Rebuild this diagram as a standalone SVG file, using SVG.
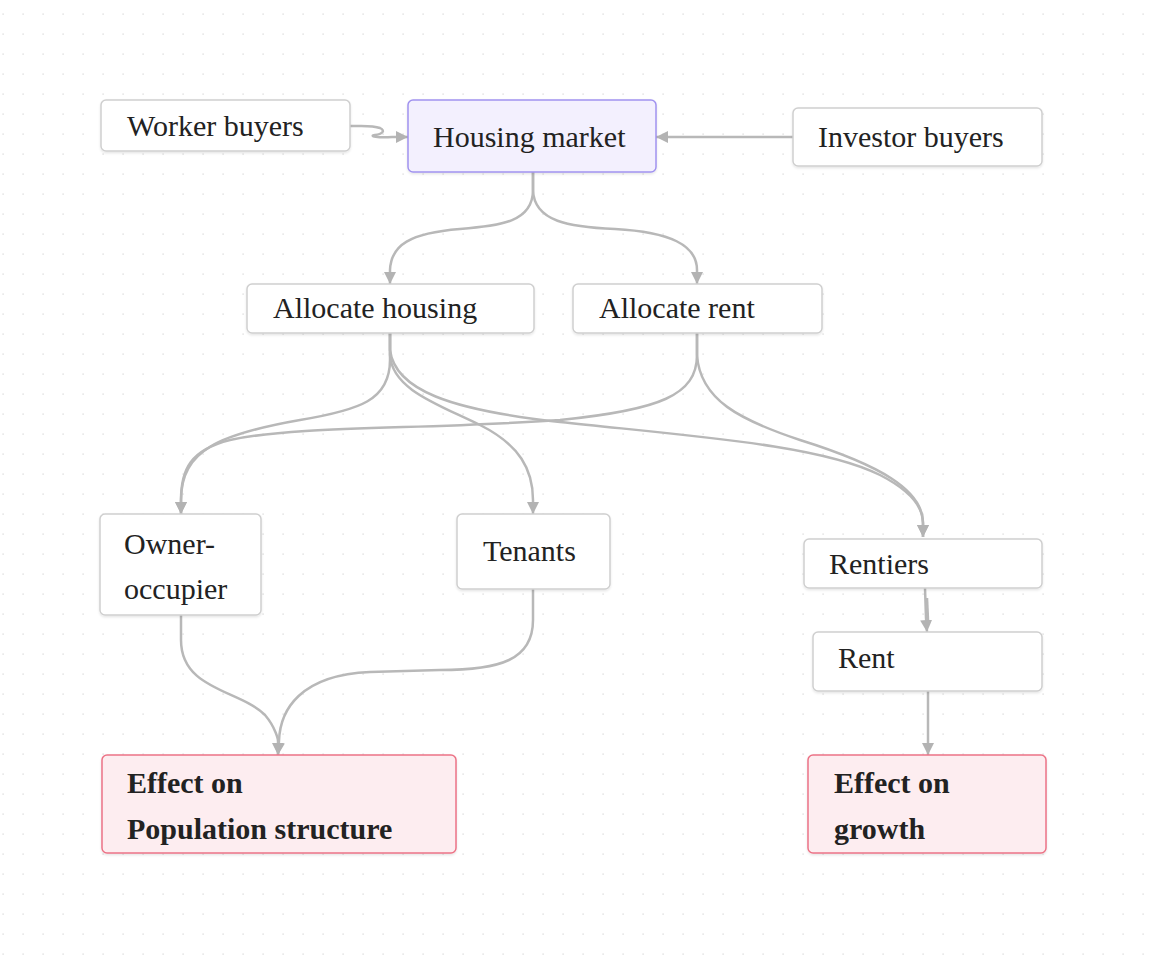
<svg xmlns="http://www.w3.org/2000/svg" width="1149" height="955" viewBox="0 0 1149 955">
<defs>
<pattern id="dots" x="2" y="13" width="20" height="20" patternUnits="userSpaceOnUse">
<rect x="0.5" y="0.5" width="1.2" height="1.2" fill="#d4d4d4"/>
</pattern>
<marker id="arr" markerUnits="userSpaceOnUse" markerWidth="14" markerHeight="14" refX="12" refY="6" orient="auto">
<path d="M0,0 L12,6 L0,12 z" fill="#b3b3b3"/>
</marker>
<filter id="sh" x="-5%" y="-5%" width="110%" height="120%">
<feDropShadow dx="0" dy="1.5" stdDeviation="1" flood-color="#000" flood-opacity="0.10"/>
</filter>
</defs>
<style>
.n rect{fill:#fff;stroke:#cfcfcf;stroke-width:1.5;filter:url(#sh)}
.hm rect{fill:#f3f0fe;stroke:#a193ef}
.ef rect{fill:#fdedf0;stroke:#ec7386}
text{font-family:"Liberation Serif","Times New Roman",serif;font-size:30px;fill:#222}
.ef text{font-weight:bold}
.e path{fill:none;stroke:#b8b8b8;stroke-width:2.5;marker-end:url(#arr)}
</style>
<rect width="1149" height="955" fill="#fff"/>
<rect width="1149" height="955" fill="url(#dots)"/>

<g id="edges" class="e">
<path d="M350,126 C364,126 372,125 380,128 C386,131 382,134 375,135 C368,136 378,138 392,137 L408,137"/>
<path d="M793,137 L656,137"/>
<path d="M533,172 L533,190 C533,222 500,226 460,229 C410,233 391,245 390,270 L390,284"/>
<path d="M533,172 L533,190 C534,222 570,227 615,229 C670,232 697,245 697,270 L697,284"/>
<path d="M390,333 L390,360 C390,400 360,410 300,420 C220,434 181,450 181,500 L181,514"/>
<path d="M697,333 L697,355 C697,395 660,410 560,420 C420,430 300,425 230,440 C190,450 181,470 181,500 L181,514"/>
<path d="M390,333 L390,355 C392,390 440,405 480,425 C520,445 533,470 533,500 L533,514"/>
<path d="M390,333 L390,350 C395,390 450,410 560,422 C700,437 820,445 880,475 C915,493 923,510 923,523 L923,537"/>
<path d="M697,333 L697,355 C700,400 740,420 800,440 C880,465 923,490 923,523 L923,537"/>
<path d="M925,588 L926,618 L927,632"/>
<path d="M927,598 L928,620" style="marker-end:none"/>
<path d="M928,691 L928,755"/>
<path d="M181,615 L181,640 C181,690 240,690 265,715 C276,728 278,740 278,741 L278,755"/>
<path d="M533,589 L533,620 C533,660 500,670 440,670 L370,672 C300,675 280,710 279,741 L278,755"/>
</g>

<g id="worker" class="n"><rect x="101" y="100" width="249" height="51" rx="5"/><text x="127" y="136">Worker buyers</text></g>
<g id="market" class="n hm"><rect x="408" y="100" width="248" height="72" rx="5"/><text x="433" y="147">Housing market</text></g>
<g id="investor" class="n"><rect x="793" y="108" width="249" height="58" rx="5"/><text x="818" y="147">Investor buyers</text></g>
<g id="allochousing" class="n"><rect x="247" y="284" width="287" height="49" rx="5"/><text x="273" y="318">Allocate housing</text></g>
<g id="allocrent" class="n"><rect x="573" y="284" width="249" height="49" rx="5"/><text x="599" y="318">Allocate rent</text></g>
<g id="owner" class="n"><rect x="100" y="514" width="161" height="101" rx="5"/><text x="124" y="554">Owner-</text><text x="124" y="599">occupier</text></g>
<g id="tenants" class="n"><rect x="457" y="514" width="153" height="75" rx="5"/><text x="483" y="561">Tenants</text></g>
<g id="rentiers" class="n"><rect x="804" y="539" width="238" height="49" rx="5"/><text x="829" y="574">Rentiers</text></g>
<g id="rent" class="n"><rect x="813" y="632" width="229" height="59" rx="5"/><text x="838" y="668">Rent</text></g>
<g id="effpop" class="n ef"><rect x="102" y="755" width="354" height="98" rx="5"/><text x="127" y="793">Effect on</text><text x="127" y="839">Population structure</text></g>
<g id="effgrowth" class="n ef"><rect x="808" y="755" width="238" height="98" rx="5"/><text x="834" y="793">Effect on</text><text x="834" y="839">growth</text></g>
</svg>
